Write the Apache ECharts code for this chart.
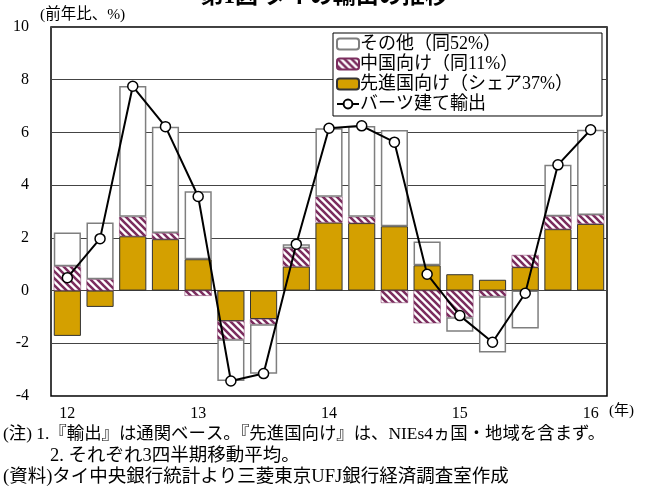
<!DOCTYPE html>
<html><head><meta charset="utf-8">
<script src="https://cdn.jsdelivr.net/npm/echarts@6/dist/echarts.min.js"></script>
<style>html,body{margin:0;padding:0;background:#fff}#c{width:648px;height:496px}</style>
</head><body><div id="c"></div>
<script>
const categories = ['12Q1','12Q2','12Q3','12Q4','13Q1','13Q2','13Q3','13Q4','14Q1','14Q2','14Q3','14Q4','15Q1','15Q2','15Q3','15Q4','16Q1'];
const xTickLabels = ['12','','','','13','','','','14','','','','15','','','','16'];
const advanced = [-1.72,-0.62,2.06,1.95,1.19,-1.16,-1.08,0.91,2.58,2.56,2.44,0.96,0.62,0.41,0.89,2.33,2.53];
const china    = [0.92,0.43,0.74,0.23,-0.20,-0.69,-0.20,0.70,0.98,0.24,-0.47,-1.24,-1.01,-0.22,0.46,0.49,0.34];
const other    = [1.28,2.15,4.96,4.04,2.58,-1.58,-1.88,0.15,2.60,3.44,3.65,0.90,-0.55,-2.13,-1.44,1.95,3.23];
const bahtExports = [0.49,1.97,7.75,6.22,3.57,-3.43,-3.15,1.76,6.16,6.25,5.63,0.62,-0.95,-1.96,-0.10,4.77,6.10];
const yTicks = [-4,-2,0,2,4,6,8,10];
const names = ['その他（同52%）','中国向け（同11%）','先進国向け（シェア37%）','バーツ建て輸出'];

const serif = '"Liberation Serif","Noto Sans CJK JP",serif';
const cjk = '"Liberation Serif","Noto Sans CJK JP",sans-serif';

function hatch(){
  const s = 7, c = document.createElement('canvas');
  c.width = s; c.height = s;
  const g = c.getContext('2d');
  g.fillStyle = '#fff'; g.fillRect(0,0,s,s);
  g.strokeStyle = '#7B2D5E'; g.lineWidth = 2.6;
  g.beginPath();
  for (const o of [-s,0,s]) { g.moveTo(o-1,-1); g.lineTo(o+s+1,s+1); }
  g.stroke();
  return c;
}
const pat = {image: hatch(), repeat: 'repeat'};

const chart = echarts.init(document.getElementById('c'), null, {renderer:'canvas'});
chart.setOption({
  animation:false,
  grid:{left:51,right:41,top:27,bottom:100,show:true,borderColor:'#000',borderWidth:1.5,backgroundColor:'transparent'},
  legend:{
    orient:'vertical', left:333, top:33,
    data:names,
    backgroundColor:'#fff', borderColor:'#000', borderWidth:1,
    padding:[2,29,3,3], itemGap:2, itemWidth:22, itemHeight:11,
    textStyle:{fontFamily:cjk,fontSize:18,color:'#000',padding:[0,0,0,-4]}
  },
  xAxis:{type:'category',data:categories,
    axisLine:{show:false},axisTick:{show:false},
    axisLabel:{interval:0,margin:10,fontFamily:serif,fontSize:16,color:'#000',
      formatter:(v,i)=>xTickLabels[i]}},
  yAxis:{type:'value',min:-4,max:10,interval:2,
    axisLine:{show:false},axisTick:{show:false},
    splitLine:{lineStyle:{color:'#444',width:1}},
    axisLabel:{margin:22,fontFamily:serif,fontSize:16,color:'#000'}},
  series:[
    {name:names[2],type:'bar',stack:'s',data:advanced,barCategoryGap:'17%',
      itemStyle:{color:'#D4A000',borderColor:'#333',borderWidth:1}},
    {name:names[1],type:'bar',stack:'s',data:china,
      itemStyle:{color:pat,borderColor:'#7B2D5E',borderWidth:0.5}},
    {name:names[0],type:'bar',stack:'s',data:other,
      itemStyle:{color:'#fff',borderColor:'#7f7f7f',borderWidth:1.5}},
    {name:names[3],type:'line',data:bahtExports,z:5,
      symbol:'circle',symbolSize:10,
      lineStyle:{color:'#000',width:2},
      itemStyle:{color:'#fff',borderColor:'#000',borderWidth:1.5}}
  ],
  graphic:[
    {type:'text',left:'center',top:-14,style:{text:'第1図 タイの輸出の推移',fontFamily:cjk,fontSize:23,fontWeight:'bold',fill:'#000'}},
    {type:'text',left:40,top:7,style:{text:'(前年比、%)',fontFamily:cjk,fontSize:15.5,fill:'#000'}},
    {type:'text',left:609,top:404,style:{text:'(年)',fontFamily:cjk,fontSize:15,fill:'#000'}},
    {type:'text',left:3,top:426,style:{text:'(注) 1.『輸出』は通関ベース。『先進国向け』は、NIEs4ヵ国・地域を含まず。',fontFamily:cjk,fontSize:17.4,fill:'#000'}},
    {type:'text',left:50,top:447,style:{text:'2. それぞれ3四半期移動平均。',fontFamily:cjk,fontSize:18.5,fill:'#000'}},
    {type:'text',left:3,top:468,style:{text:'(資料)タイ中央銀行統計より三菱東京UFJ銀行経済調査室作成',fontFamily:cjk,fontSize:18.5,fill:'#000'}}
  ]
});
</script></body></html>
